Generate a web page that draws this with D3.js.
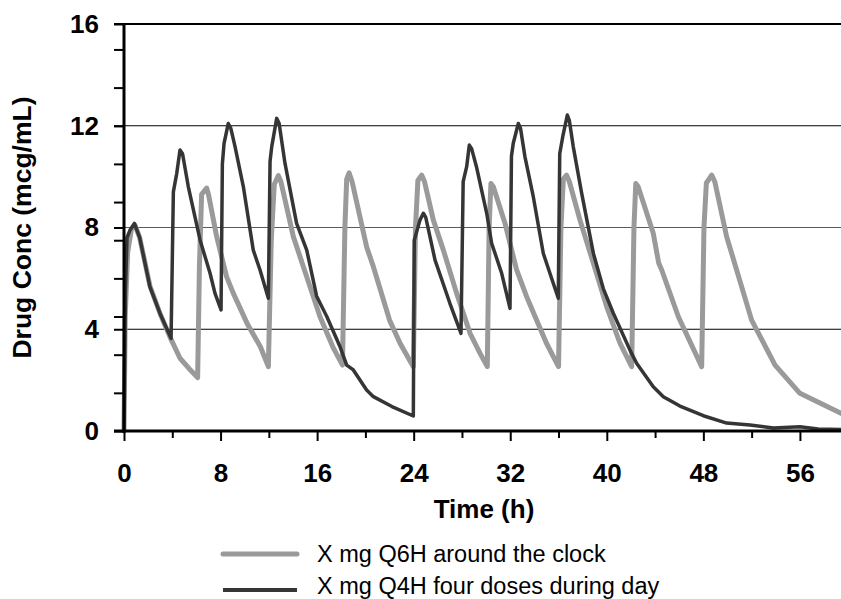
<!DOCTYPE html>
<html>
<head>
<meta charset="utf-8">
<script src="https://cdn.jsdelivr.net/npm/d3@7/dist/d3.min.js"></script>
<style>
  html, body { margin: 0; padding: 0; background: #fff; }
  svg { display: block; }
  text { font-family: "Liberation Sans", Arial, sans-serif; fill: #000; }
</style>
</head>
<body>
<svg id="chart" width="841" height="599"></svg>
<script>
// Concentration-time profiles, [time (h), concentration (mcg/mL)]
const q6hAroundClock = [
  [0, 0], [0.1, 4.5], [0.3, 7.0], [0.6, 7.9], [0.9, 8.1], [1.3, 7.6], [2.15, 5.7],
  [3.0, 4.6], [3.9, 3.6], [4.64, 2.86], [5.4, 2.45], [6.1, 2.1],
  [6.25, 6.5], [6.43, 9.3], [6.85, 9.55], [7.0, 9.3], [7.68, 7.64], [8.5, 6.07], [9.06, 5.41],
  [10.2, 4.23], [11.3, 3.31], [11.96, 2.53],
  [12.2, 7.5], [12.45, 9.7], [12.79, 10.04], [13.0, 9.8], [14.03, 7.64], [14.86, 6.46],
  [16.24, 4.49], [17.3, 3.31], [18.1, 2.59],
  [18.3, 8.0], [18.45, 9.9], [18.65, 10.15], [18.9, 9.8], [20.1, 7.24], [20.66, 6.46],
  [22.0, 4.36], [22.87, 3.45], [23.97, 2.53],
  [24.15, 8.0], [24.35, 9.85], [24.66, 10.06], [24.9, 9.8], [25.63, 8.29], [26.46, 7.11],
  [27.56, 5.41], [28.67, 3.84], [29.5, 3.05], [30.1, 2.53],
  [30.25, 8.0], [30.4, 9.73], [30.6, 9.6], [31.57, 8.16], [32.53, 6.33], [33.36, 5.28],
  [35.0, 3.45], [36.0, 2.53],
  [36.2, 8.0], [36.4, 9.9], [36.67, 10.06], [36.9, 9.8], [37.78, 8.29], [38.89, 6.59],
  [39.99, 4.89], [41.09, 3.45], [42.06, 2.53],
  [42.25, 8.0], [42.4, 9.73], [42.6, 9.6], [43.85, 7.77], [44.3, 6.6], [44.55, 6.33],
  [45.93, 4.49], [47.86, 2.53],
  [48.05, 8.0], [48.25, 9.75], [48.69, 10.06], [48.95, 9.8], [49.93, 7.64], [52.0, 4.36],
  [53.94, 2.59], [56.0, 1.48], [59.4, 0.7], [60, 0.55]
];

const q4hFourDoses = [
  [0, 0], [0.12, 5.5], [0.25, 7.6], [0.5, 7.9], [0.86, 8.16], [1.3, 7.6], [2.15, 5.67],
  [3.0, 4.6], [3.9, 3.64],
  [4.09, 9.4], [4.37, 10.13], [4.64, 11.05], [4.85, 10.9], [5.33, 9.6], [6.3, 7.51],
  [7.13, 6.2], [7.54, 5.41], [8.04, 4.76],
  [8.15, 10.5], [8.29, 11.31], [8.64, 12.09], [8.85, 11.9], [9.2, 11.18], [9.89, 9.6],
  [10.71, 7.11], [11.27, 6.33], [11.96, 5.22],
  [12.1, 10.6], [12.24, 11.18], [12.65, 12.29], [12.85, 12.1], [13.34, 10.52], [14.3, 8.16],
  [15.14, 7.11], [15.96, 5.3], [16.8, 4.5], [17.9, 3.31], [18.45, 2.59], [19.0, 2.4],
  [20.1, 1.61], [20.66, 1.35], [22.2, 0.96], [23.97, 0.59],
  [24.05, 7.5], [24.52, 8.29], [24.8, 8.56], [25.0, 8.4], [25.77, 6.72], [27.0, 5.02],
  [27.92, 3.84],
  [28.1, 9.8], [28.39, 10.39], [28.61, 11.24], [28.8, 11.1], [29.2, 10.39], [30.05, 8.56],
  [30.46, 7.38], [31.29, 6.2], [31.98, 4.82],
  [32.1, 10.8], [32.25, 11.31], [32.67, 12.09], [32.85, 11.9], [33.22, 10.78], [33.91, 9.21],
  [34.74, 6.98], [35.98, 5.22],
  [36.1, 10.9], [36.35, 11.57], [36.73, 12.42], [36.9, 12.2], [37.22, 11.18], [37.92, 9.34],
  [38.89, 6.98], [39.71, 5.6], [40.54, 4.63], [41.92, 3.18], [42.47, 2.66], [43.85, 1.74],
  [44.68, 1.35], [46.06, 0.98], [48.0, 0.6], [49.93, 0.31], [51.86, 0.24], [53.8, 0.12],
  [56.0, 0.17], [57.5, 0.08], [60, 0.05]
];

const seriesNames = ["X mg Q6H around the clock", "X mg Q4H four doses during day"];
const yLabelValues = [0, 4, 8, 12, 16];
const yMinorValues = [1.5, 3, 4.5, 6, 7.5, 9, 10.5, 12, 13.5, 15];
const yGridValues = [4, 8, 12];
const xLabelValues = [0, 8, 16, 24, 32, 40, 48, 56];
const xMinorValues = [4, 12, 20, 28, 36, 44, 52, 60];
const xTitle = "Time (h)";
const yTitle = "Drug Conc (mcg/mL)";

const svg = d3.select("#chart");
const W = 841;

const x = d3.scaleLinear().domain([0, 60]).range([124, 848.2]);
const y = d3.scaleLinear().domain([0, 16]).range([431, 24]);

// gridlines
svg.append("g").selectAll("line")
  .data(yGridValues)
  .join("line")
  .attr("x1", x(0)).attr("x2", W)
  .attr("y1", d => y(d)).attr("y2", d => y(d))
  .attr("stroke", d => d === 8 ? "#5a5a5a" : "#000")
  .attr("stroke-width", 1.2);

// top frame line
svg.append("line")
  .attr("x1", x(0) - 10).attr("x2", W)
  .attr("y1", y(16)).attr("y2", y(16))
  .attr("stroke", "#000").attr("stroke-width", 2);

// series
const line = d3.line().x(d => x(d[0])).y(d => y(d[1])).curve(d3.curveLinear);
const plot = svg.append("g");
plot.append("path")
  .datum(q6hAroundClock)
  .attr("d", line)
  .attr("fill", "none")
  .attr("stroke", "#9a9a9a")
  .attr("stroke-width", 5)
  .attr("stroke-linejoin", "round")
  .attr("stroke-linecap", "round");
plot.append("path")
  .datum(q4hFourDoses)
  .attr("d", line)
  .attr("fill", "none")
  .attr("stroke", "#353535")
  .attr("stroke-width", 3.5)
  .attr("stroke-linejoin", "round")
  .attr("stroke-linecap", "round");

// y axis
const yAxis = svg.append("g").attr("transform", `translate(${x(0)},0)`);
yAxis.call(d3.axisLeft(y).tickValues(yLabelValues).tickSize(10).tickPadding(15));
yAxis.append("g").call(d3.axisLeft(y).tickValues(yMinorValues).tickSize(10).tickFormat(""));
yAxis.selectAll(".domain").remove();
yAxis.selectAll(".tick line").attr("stroke", "#000").attr("stroke-width", 2);
yAxis.selectAll(".tick text")
  .attr("font-size", 26).attr("font-weight", "bold")
  .attr("font-family", "Liberation Sans, Arial, sans-serif").attr("fill", "#000");
svg.append("line")
  .attr("x1", x(0)).attr("x2", x(0))
  .attr("y1", y(16)).attr("y2", y(0) + 1.5)
  .attr("stroke", "#000").attr("stroke-width", 3);

// x axis
const xAxis = svg.append("g").attr("transform", `translate(0,${y(0)})`);
xAxis.call(d3.axisBottom(x).tickValues(xLabelValues).tickSize(10).tickPadding(23));
xAxis.append("g").call(d3.axisBottom(x).tickValues(xMinorValues).tickSize(7).tickFormat(""));
xAxis.selectAll(".domain").remove();
xAxis.selectAll(".tick line").attr("stroke", "#000").attr("stroke-width", 2);
xAxis.selectAll(".tick text")
  .attr("font-size", 26).attr("font-weight", "bold")
  .attr("font-family", "Liberation Sans, Arial, sans-serif").attr("fill", "#000");
svg.append("line")
  .attr("x1", x(0) - 10).attr("x2", W)
  .attr("y1", y(0)).attr("y2", y(0))
  .attr("stroke", "#000").attr("stroke-width", 3);

// axis titles
svg.append("text")
  .attr("x", 484).attr("y", 518)
  .attr("text-anchor", "middle")
  .attr("font-size", 26).attr("font-weight", "bold")
  .text(xTitle);
svg.append("text")
  .attr("transform", `translate(31,${(y(0) + y(16)) / 2}) rotate(-90)`)
  .attr("text-anchor", "middle")
  .attr("font-size", 26.5).attr("font-weight", "bold")
  .text(yTitle);

// legend
const legendStyles = [
  { color: "#9a9a9a", width: 5, y: 554, ty: 562 },
  { color: "#353535", width: 4, y: 590, ty: 594 }
];
const legend = svg.append("g");
legend.selectAll("line")
  .data(seriesNames)
  .join("line")
  .attr("x1", 223).attr("x2", 297)
  .attr("y1", (d, i) => legendStyles[i].y).attr("y2", (d, i) => legendStyles[i].y)
  .attr("stroke", (d, i) => legendStyles[i].color)
  .attr("stroke-width", (d, i) => legendStyles[i].width)
  .attr("stroke-linecap", (d, i) => i === 0 ? "round" : "butt");
legend.selectAll("text")
  .data(seriesNames)
  .join("text")
  .attr("x", 317)
  .attr("y", (d, i) => legendStyles[i].ty)
  .attr("font-size", 23.5)
  .text(d => d);
</script>
</body>
</html>
